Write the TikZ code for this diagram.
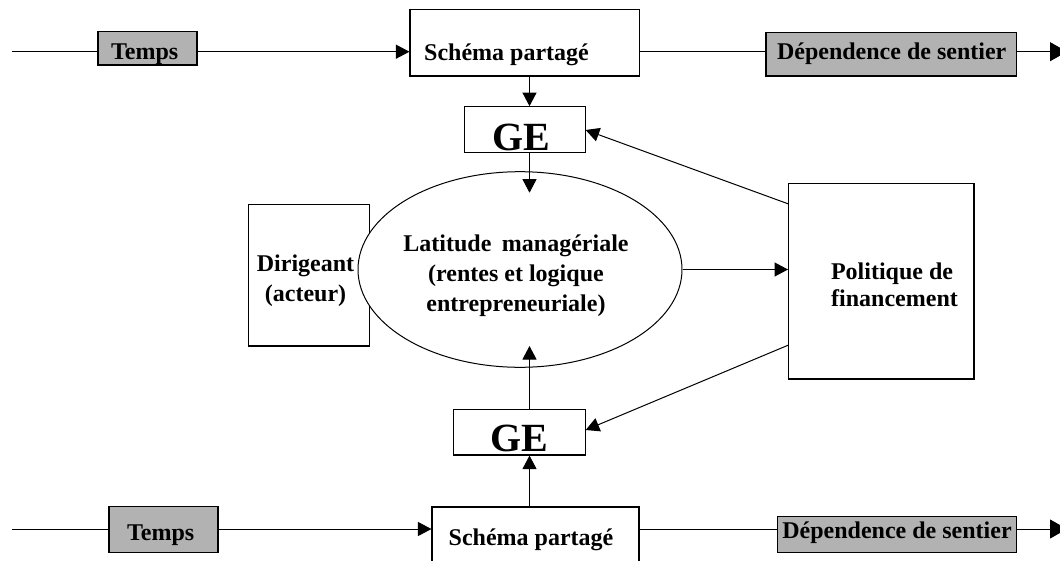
\documentclass[tikz,border=0pt]{standalone}
\usepackage{fontspec}
\setmainfont{Liberation Serif}
\usetikzlibrary{arrows.meta,shapes.geometric}
\definecolor{boxgray}{RGB}{178,178,178}
\tikzset{
  box/.style={draw=black, line width=1.1pt, fill=white, rectangle, inner sep=0pt},
  graybox/.style={box, fill=boxgray},
  lbl/.style={font=\fontsize{24}{30}\selectfont\bfseries, inner sep=0pt, anchor=base},
  bigl/.style={font=\fontsize{40}{44}\selectfont\bfseries, inner sep=0pt, anchor=base},
  conn/.style={line width=1pt},
  arr/.style={conn, -{Triangle[length=13.5pt,width=14pt]}},
  bigarr/.style={conn, -{Triangle[length=17pt,width=19pt]}}
}
\begin{document}
\begin{tikzpicture}[x=1pt,y=-1pt]
\useasboundingbox (0,0) rectangle (1060,560);
% ---------- top row ----------
\node[graybox, minimum width=99, minimum height=33.3] (temps1) at (147.5,48.35) {};
\node[lbl] (temps1t) at (144.7,59.5) {Temps};
\node[box, minimum width=229.5, minimum height=66.7] (schema1) at (524.75,42.65) {};
\node[lbl] (schema1t) at (506.5,60) {Schéma partagé};
\node[graybox, minimum width=250.5, minimum height=43.3] (dep1) at (891.25,54.35) {};
\node[lbl] (dep1t) at (891.7,59) {Dépendence de sentier};
\coordinate (l1) at (12,51.7);
\coordinate (r1) at (1067,51.7);
\draw[conn] (l1) -- (l1 -| temps1.west);
\draw[arr] (temps1.east |- l1) -- (schema1.west |- l1);
\draw[conn] (schema1.east |- l1) -- (dep1.west |- l1);
\draw[bigarr] (dep1.east |- l1) -- (r1);
% ---------- GE top ----------
\node[box, minimum width=121.4, minimum height=45.6] (ge1) at (525,129.5) {};
\node[bigl] (ge1t) at (521.7,150) {GE};
% ---------- middle ----------
\node[box, minimum width=120.9, minimum height=141.7] (dir) at (309.05,275.15) {};
\node[lbl, align=center] (dirt) at (305.5,301.7) {Dirigeant\\(acteur)};
\node[draw=black, line width=1pt, fill=white, ellipse, inner sep=0pt, minimum width=324, minimum height=195.6] (ell) at (520,269.5) {};
\node[lbl, align=center] (ellt) at (516,311) {Latitude\hspace{10.5pt}managériale\\(rentes et logique\\entrepreneuriale)};
\node[box, minimum width=185.4, minimum height=195.7] (pol) at (881.3,281.15) {};
\node[lbl, align=center, font=\fontsize{24}{27}\selectfont\bfseries] (polt) at (892,306) {Politique de\\\hspace*{5pt}financement};
% ---------- GE bottom ----------
\node[box, minimum width=132.4, minimum height=45.7] (ge2) at (519.5,432.15) {};
\node[bigl] (ge2t) at (519.7,451) {GE};
% ---------- bottom row ----------
\node[graybox, minimum width=109, minimum height=45.6] (temps2) at (163.5,529.5) {};
\node[lbl] (temps2t) at (160.7,540.7) {Temps};
\node[box, minimum width=207, minimum height=68] (schema2) at (535.5,541) {};
\node[lbl] (schema2t) at (531,545) {Schéma partagé};
\node[graybox, minimum width=238.9, minimum height=35.6] (dep2) at (897.05,534.5) {};
\node[lbl] (dep2t) at (897,538.7) {Dépendence de sentier};
\coordinate (l2) at (12,529);
\coordinate (r2) at (1067,529);
\draw[conn] (l2) -- (l2 -| temps2.west);
\draw[arr] (temps2.east |- l2) -- (schema2.west |- l2);
\draw[conn] (schema2.east |- l2) -- (dep2.west |- l2);
\draw[bigarr] (dep2.east |- l2) -- (r2);
% ---------- vertical connectors ----------
\coordinate (vx) at (529.5,0);
\coordinate (tipT) at (529.5,192.7);
\coordinate (tipB) at (529.5,346);
\draw[arr] (vx |- schema1.south) -- (vx |- ge1.north);
\draw[arr] (vx |- ge1.south) -- (tipT);
\draw[arr] (vx |- ge2.north) -- (tipB);
\draw[arr] (vx |- schema2.north) -- (vx |- ge2.south);
% ---------- politique connectors ----------
\coordinate (p1) at (788.6,204);
\coordinate (p2) at (788.6,345);
\coordinate (g1) at (585.7,130);
\coordinate (g2) at (585.7,430);
\draw[arr] (ell.east |- 0,269.5) -- (pol.west |- 0,269.5);
\draw[arr] (p1) -- (g1);
\draw[arr] (p2) -- (g2);
\end{tikzpicture}
\end{document}
